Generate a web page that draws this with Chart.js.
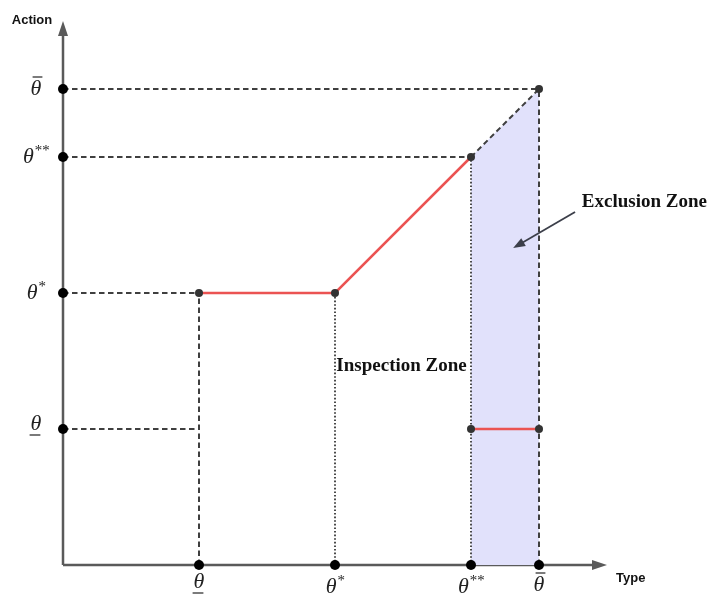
<!DOCTYPE html>
<html lang="en">
<head>
<meta charset="UTF-8">
<title>Inspection and Exclusion Zones</title>
<script src="https://cdn.jsdelivr.net/npm/chart.js"></script>
<style>
  body { margin: 0; background: #fff; }
  #wrap { width: 709px; height: 599px; }
</style>
</head>
<body>
<div id="wrap"><canvas id="zoneChart" width="709" height="599"></canvas></div>
<script>
// ---- data ----
const tickValues = [2, 4, 6, 7];              // theta_low, theta*, theta**, theta_high
const tickBase = ['θ', 'θ', 'θ', 'θ'];
const tickSup = ['', '*', '**', ''];
const tickMark = ['under', '', '', 'over'];
const axisMax = 8;

// red policy segments
const policyX = [2, 4, 6];
const policyY = [4, 4, 6];
const lowX = [6, 7];
const lowY = [2, 2];

// dashed continuation of the diagonal
const diagX = [6, 7];
const diagY = [6, 7];

// dashed guides [x1, y1, x2, y2]
const dashedGuides = [
  [0, 7, 7, 7],
  [0, 6, 6, 6],
  [0, 4, 2, 4],
  [0, 2, 2, 2],
  [2, 0, 2, 4],
  [7, 0, 7, 7]
];
// dotted guides
const dottedGuides = [
  [4, 0, 4, 4],
  [6, 0, 6, 6]
];

// dots inside the plot
const innerDotX = [2, 4, 6, 7, 6, 7];
const innerDotY = [4, 4, 6, 7, 2, 2];

// annotations
const exclusionText = 'Exclusion Zone';
const exclusionPos = [7.63, 5.33];
const arrowFrom = [7.53, 5.19];
const arrowTo = [6.62, 4.66];
const inspectionText = 'Inspection Zone';
const inspectionPos = [4.02, 2.93];

// ---- datasets ----
const seg = (s) => [{ x: s[0], y: s[1] }, { x: s[2], y: s[3] }];
const pts = (xs, ys) => xs.map((x, i) => ({ x: x, y: ys[i] }));

const datasets = [];

// axis dots
datasets.push({
  data: tickValues.map(v => ({ x: 0, y: v })).concat(tickValues.map(v => ({ x: v, y: 0 }))),
  showLine: false, pointRadius: 5, pointBackgroundColor: '#000', pointBorderWidth: 0, clip: false, order: 0
});
// inner dots
datasets.push({
  data: pts(innerDotX, innerDotY),
  showLine: false, pointRadius: 4, pointBackgroundColor: '#333', pointBorderWidth: 0, clip: false, order: 0
});
// red segments
datasets.push({ data: pts(policyX, policyY), showLine: true, borderColor: '#eb5352', borderWidth: 2.5, pointRadius: 0, order: 1 });
datasets.push({ data: pts(lowX, lowY), showLine: true, borderColor: '#eb5352', borderWidth: 2.5, pointRadius: 0, order: 1 });
// dashed diagonal
datasets.push({ data: pts(diagX, diagY), showLine: true, borderColor: '#3f3f3f', borderWidth: 2, borderDash: [5.5, 3.5], pointRadius: 0, order: 2 });
dashedGuides.forEach(s => datasets.push({
  data: seg(s), showLine: true, borderColor: '#3f3f3f', borderWidth: 2, borderDash: [5.5, 3.5], pointRadius: 0, order: 2
}));
dottedGuides.forEach(s => datasets.push({
  data: seg(s), showLine: true, borderColor: '#4a4a4a', borderWidth: 2, borderDash: [1.6, 2], pointRadius: 0, order: 2
}));
// shaded exclusion zone
datasets.push({
  data: pts(diagX, diagY), showLine: true, borderWidth: 0, pointRadius: 0,
  fill: 'origin', backgroundColor: '#e1e1fb', order: 5
});

// ---- plugins ----
const axesPlugin = {
  id: 'axes',
  beforeDatasetsDraw(chart) {
    const ctx = chart.ctx;
    const xs = chart.scales.x, ys = chart.scales.y;
    const x0 = xs.getPixelForValue(0), y0 = ys.getPixelForValue(0);
    const xEnd = xs.getPixelForValue(axisMax), yEnd = ys.getPixelForValue(axisMax);
    ctx.save();
    ctx.strokeStyle = '#5a5a5a';
    ctx.fillStyle = '#5a5a5a';
    ctx.lineWidth = 2.5;
    ctx.beginPath();
    ctx.moveTo(x0, y0); ctx.lineTo(xEnd - 8, y0);
    ctx.moveTo(x0, y0); ctx.lineTo(x0, yEnd + 8);
    ctx.stroke();
    // arrow heads
    ctx.beginPath();
    ctx.moveTo(xEnd, y0); ctx.lineTo(xEnd - 15, y0 - 5); ctx.lineTo(xEnd - 15, y0 + 5); ctx.closePath();
    ctx.fill();
    ctx.beginPath();
    ctx.moveTo(x0, yEnd); ctx.lineTo(x0 - 5, yEnd + 15); ctx.lineTo(x0 + 5, yEnd + 15); ctx.closePath();
    ctx.fill();
    ctx.restore();
  },
  afterDraw(chart) {
    const ctx = chart.ctx;
    const xs = chart.scales.x, ys = chart.scales.y;
    const x0 = xs.getPixelForValue(0), y0 = ys.getPixelForValue(0);
    ctx.save();
    ctx.fillStyle = '#111';
    ctx.font = 'bold 13px "Liberation Sans", Arial, sans-serif';
    ctx.textBaseline = 'middle';
    ctx.textAlign = 'center';
    ctx.fillText('Action', x0 - 31, ys.getPixelForValue(axisMax) - 1);
    ctx.textAlign = 'left';
    ctx.fillText('Type', xs.getPixelForValue(axisMax) + 9, y0 + 13);

    const drawTheta = (cx, cy, i) => {
      ctx.font = 'italic 22px "Liberation Serif", "Times New Roman", serif';
      ctx.textBaseline = 'middle';
      ctx.textAlign = 'left';
      const w = ctx.measureText(tickBase[i]).width;
      ctx.font = 'italic 15px "Liberation Serif", "Times New Roman", serif';
      const ws = tickSup[i] ? ctx.measureText(tickSup[i]).width : 0;
      const left = cx - (w + ws) / 2;
      ctx.font = 'italic 22px "Liberation Serif", "Times New Roman", serif';
      ctx.fillText(tickBase[i], left, cy);
      if (tickSup[i]) {
        ctx.font = 'italic 15px "Liberation Serif", "Times New Roman", serif';
        ctx.fillText(tickSup[i], left + w, cy - 6);
      }
      ctx.strokeStyle = '#222';
      ctx.lineWidth = 1.2;
      if (tickMark[i] === 'over') {
        ctx.beginPath(); ctx.moveTo(left + 2, cy - 12); ctx.lineTo(left + w + 1, cy - 12); ctx.stroke();
      } else if (tickMark[i] === 'under') {
        ctx.beginPath(); ctx.moveTo(left - 1, cy + 11); ctx.lineTo(left + w - 1, cy + 11); ctx.stroke();
      }
    };
    ctx.fillStyle = '#222';
    tickValues.forEach((v, i) => {
      drawTheta(x0 - 27, ys.getPixelForValue(v) + (tickMark[i] === 'under' ? -5 : 0), i);
      drawTheta(xs.getPixelForValue(v), y0 + 20 + (tickSup[i] ? 2 : 0) - (tickMark[i] === 'under' ? 3 : 0), i);
    });

    // zone labels
    ctx.fillStyle = '#111';
    ctx.font = 'bold 19px "Liberation Serif", "Times New Roman", serif';
    ctx.textAlign = 'left';
    ctx.textBaseline = 'middle';
    ctx.fillText(exclusionText, xs.getPixelForValue(exclusionPos[0]), ys.getPixelForValue(exclusionPos[1]));
    ctx.fillText(inspectionText, xs.getPixelForValue(inspectionPos[0]), ys.getPixelForValue(inspectionPos[1]));

    // pointer arrow
    const ax = xs.getPixelForValue(arrowFrom[0]), ay = ys.getPixelForValue(arrowFrom[1]);
    const bx = xs.getPixelForValue(arrowTo[0]), by = ys.getPixelForValue(arrowTo[1]);
    const ang = Math.atan2(by - ay, bx - ax);
    ctx.strokeStyle = '#3c3f4a';
    ctx.fillStyle = '#3c3f4a';
    ctx.lineWidth = 1.8;
    ctx.beginPath();
    ctx.moveTo(ax, ay);
    ctx.lineTo(bx - 9 * Math.cos(ang), by - 9 * Math.sin(ang));
    ctx.stroke();
    ctx.beginPath();
    ctx.moveTo(bx, by);
    ctx.lineTo(bx - 12 * Math.cos(ang) + 4.5 * Math.sin(ang), by - 12 * Math.sin(ang) - 4.5 * Math.cos(ang));
    ctx.lineTo(bx - 12 * Math.cos(ang) - 4.5 * Math.sin(ang), by - 12 * Math.sin(ang) + 4.5 * Math.cos(ang));
    ctx.closePath();
    ctx.fill();
    ctx.restore();
  }
};

new Chart(document.getElementById('zoneChart').getContext('2d'), {
  type: 'scatter',
  data: { datasets: datasets },
  options: {
    responsive: false,
    animation: false,
    layout: { padding: { left: 63, top: 21, right: 102, bottom: 34 } },
    plugins: { legend: { display: false }, tooltip: { enabled: false } },
    elements: { line: { tension: 0 } },
    scales: {
      x: { type: 'linear', min: 0, max: axisMax, display: false },
      y: { type: 'linear', min: 0, max: axisMax, display: false }
    }
  },
  plugins: [axesPlugin]
});
</script>
</body>
</html>
